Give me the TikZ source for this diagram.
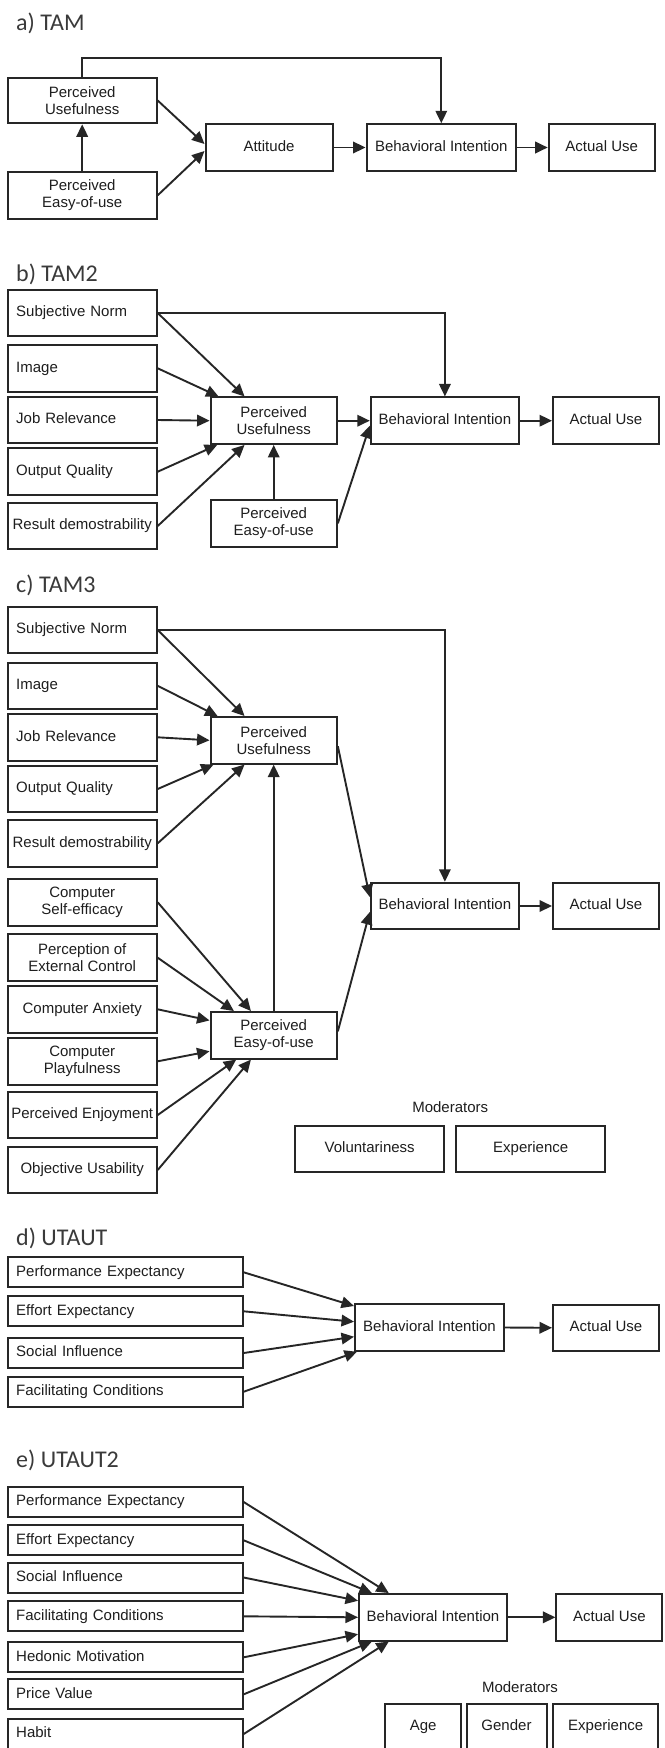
\documentclass[tikz,border=0pt]{standalone}
\usepackage{fontspec}
\setmainfont{Liberation Sans}
\newfontfamily\titlefont{Carlito}
\usetikzlibrary{arrows.meta,calc}
\definecolor{lc}{HTML}{262626}
\definecolor{tc}{HTML}{1E1E1E}
\definecolor{ttc}{HTML}{3A3A3A}
\begin{document}
\begin{tikzpicture}[x=1pt,y=-1pt,
  mybox/.style={draw=lc, line width=2pt, inner sep=0pt, align=center, text=tc,
    font=\fontsize{15}{17}\selectfont, minimum height=46.5pt},
  sl/.style={text height=10.8pt, text depth=3.2pt},
  sbox/.style={mybox, minimum width=149pt},
  lbox/.style={sbox, sl, text width=132pt, align=left},
  wbox/.style={mybox, sl, minimum width=235pt, minimum height=30pt, text width=218pt, align=left},
  myarr/.style={draw=lc, line width=1.9pt, -{Triangle[length=12.5pt,width=11.5pt]}},
  ttl/.style={anchor=base west, inner sep=0pt, text=ttc, font=\titlefont\fontsize{24}{28}\selectfont},
  modl/.style={inner sep=0pt, text=tc, font=\fontsize{15}{17}\selectfont}
]
\useasboundingbox (0,0) rectangle (664,1748);
\clip (0,0) rectangle (664,1748);
\fill[white] (0,0) rectangle (664,1748);

% ---------------- a) TAM ----------------
\node[ttl] (ta) at (16,30.5) {a) TAM};
\node[sbox, minimum height=45.6pt] (a_pu) at (82.2,100.5) {Perceived\\Usefulness};
\node[sbox] (a_peou) at (82.2,195.3) {Perceived\\Easy-of-use};
\node[mybox, sl, minimum width=127pt] (a_att) at (269,147.5) {Attitude};
\node[mybox, sl, minimum width=149.5pt] (a_bi) at (441.3,147.5) {Behavioral Intention};
\node[mybox, sl, minimum width=106pt] (a_au) at (601.7,147.5) {Actual Use};
\coordinate (a_top) at (82.2,58.3);
\draw[myarr] (a_pu.north) -- (a_top) -| (a_bi.north);
\draw[myarr] (a_pu.east) -- ($(a_att.west)+(0,-3.5)$);
\draw[myarr] (a_peou.east) -- ($(a_att.west)+(0,3.5)$);
\draw[myarr] (a_peou.north) -- (a_pu.south);
\draw[myarr] (a_att.east) -- (a_bi.west);
\draw[myarr] (a_bi.east) -- (a_au.west);

% ---------------- b) TAM2 ----------------
\node[ttl] (tb) at (16,281.7) {b) TAM2};
\node[lbox] (b_sn) at (82.2,313) {Subjective Norm};
\node[lbox] (b_img) at (82.2,368.3) {Image};
\node[lbox] (b_jr) at (82.2,420) {Job Relevance};
\node[lbox] (b_oq) at (82.2,471.7) {Output Quality};
\node[sbox, sl] (b_rd) at (82.2,526) {Result demostrability};
\node[mybox, minimum width=126.3pt] (b_pu) at (273.7,420.7) {Perceived\\Usefulness};
\node[mybox, minimum width=126.3pt] (b_peou) at (273.7,523.3) {Perceived\\Easy-of-use};
\node[mybox, sl, minimum width=148.2pt] (b_bi) at (444.9,420.7) {Behavioral Intention};
\node[mybox, sl, minimum width=106pt] (b_au) at (606,420.7) {Actual Use};
\draw[myarr] (b_sn.east) -| (b_bi.north);
\draw[myarr] (b_sn.east) -- ($(b_pu.north west)+(35,0)$);
\draw[myarr] (b_img.east) -- ($(b_pu.north west)+(9,0)$);
\draw[myarr] (b_jr.east) -- (b_pu.west);
\draw[myarr] (b_oq.east) -- ($(b_pu.south west)+(7.6,0)$);
\draw[myarr] (b_rd.east) -- ($(b_pu.south west)+(35,0)$);
\draw[myarr] (b_peou.north) -- (b_pu.south);
\draw[myarr] (b_pu.east) -- (b_bi.west);
\draw[myarr] (b_peou.east) -- ($(b_bi.west)+(0,5)$);
\draw[myarr] (b_bi.east) -- (b_au.west);

% ---------------- c) TAM3 ----------------
\node[ttl] (tc3) at (16,592) {c) TAM3};
\node[lbox] (c_sn) at (82.2,630) {Subjective Norm};
\node[lbox] (c_img) at (82.2,685.8) {Image};
\node[lbox] (c_jr) at (82.2,737.3) {Job Relevance};
\node[lbox] (c_oq) at (82.2,789) {Output Quality};
\node[sbox, sl] (c_rd) at (82.2,843.3) {Result demostrability};
\node[sbox] (c_cse) at (82.2,902.3) {Computer\\Self-efficacy};
\node[sbox] (c_pec) at (82.2,957.7) {Perception of\\External Control};
\node[sbox, sl] (c_ca) at (82.2,1009.3) {Computer Anxiety};
\node[sbox] (c_cp) at (82.2,1061.3) {Computer\\Playfulness};
\node[sbox, sl] (c_pe) at (82.2,1115) {Perceived Enjoyment};
\node[sbox, sl] (c_ou) at (82.2,1170) {Objective Usability};
\node[mybox, minimum width=126.3pt] (c_pu) at (273.7,740.3) {Perceived\\Usefulness};
\node[mybox, minimum width=126.3pt] (c_peou) at (273.7,1035.3) {Perceived\\Easy-of-use};
\node[mybox, sl, minimum width=148.2pt] (c_bi) at (444.9,906) {Behavioral Intention};
\node[mybox, sl, minimum width=106pt] (c_au) at (606,906) {Actual Use};
\node[modl] (c_mod) at (450.2,1107) {Moderators};
\node[mybox, sl, minimum width=148.7pt] (c_vol) at (369.7,1149) {Voluntariness};
\node[mybox, sl, minimum width=148.7pt] (c_exp) at (530.7,1149) {Experience};
\draw[myarr] (c_sn.east) -| (c_bi.north);
\draw[myarr] (c_sn.east) -- ($(c_pu.north west)+(35,0)$);
\draw[myarr] (c_img.east) -- ($(c_pu.north west)+(8,0)$);
\draw[myarr] (c_jr.east) -- (c_pu.west);
\draw[myarr] (c_oq.east) -- ($(c_pu.south west)+(4,0)$);
\draw[myarr] (c_rd.east) -- ($(c_pu.south west)+(35,0)$);
\draw[myarr] (c_peou.north) -- (c_pu.south);
\draw[myarr] ($(c_pu.east)+(0,6)$) -- ($(c_bi.west)+(0,-9)$);
\draw[myarr] ($(c_peou.east)+(0,-4)$) -- ($(c_bi.west)+(0,6)$);
\draw[myarr] (c_bi.east) -- (c_au.west);
\draw[myarr] (c_cse.east) -- ($(c_peou.north west)+(41.4,0)$);
\draw[myarr] (c_pec.east) -- ($(c_peou.north west)+(24.4,0)$);
\draw[myarr] (c_ca.east) -- ($(c_peou.north west)+(0,9.4)$);
\draw[myarr] (c_cp.east) -- ($(c_peou.south west)+(0,-8.3)$);
\draw[myarr] (c_pe.east) -- ($(c_peou.south west)+(26.7,0)$);
\draw[myarr] (c_ou.east) -- ($(c_peou.south west)+(41.4,0)$);

% ---------------- d) UTAUT ----------------
\node[ttl] (td) at (16,1245) {d) UTAUT};
\node[wbox] (d_pe) at (125.2,1272.3) {Performance Expectancy};
\node[wbox] (d_ee) at (125.2,1311.3) {Effort Expectancy};
\node[wbox] (d_si) at (125.2,1353) {Social Influence};
\node[wbox] (d_fc) at (125.2,1391.7) {Facilitating Conditions};
\node[mybox, sl, minimum width=149pt] (d_bi) at (429.5,1327.5) {Behavioral Intention};
\node[mybox, sl, minimum width=106pt] (d_au) at (606,1327.8) {Actual Use};
\draw[myarr] (d_pe.east) -- ($(d_bi.west)+(0,-21.5)$);
\draw[myarr] (d_ee.east) -- ($(d_bi.west)+(0,-5.8)$);
\draw[myarr] (d_si.east) -- ($(d_bi.west)+(0,9.2)$);
\draw[myarr] (d_fc.east) -- ($(d_bi.south west)+(3,0)$);
\draw[myarr] (d_bi.east) -- (d_au.west);

% ---------------- e) UTAUT2 ----------------
\node[ttl] (te) at (16,1467.3) {e) UTAUT2};
\node[wbox] (e_pe) at (125.2,1502) {Performance Expectancy};
\node[wbox] (e_ee) at (125.2,1540.3) {Effort Expectancy};
\node[wbox] (e_si) at (125.2,1577.5) {Social Influence};
\node[wbox] (e_fc) at (125.2,1616.3) {Facilitating Conditions};
\node[wbox] (e_hm) at (125.2,1657.3) {Hedonic Motivation};
\node[wbox] (e_pv) at (125.2,1694.3) {Price Value};
\node[wbox, minimum height=31pt] (e_hab) at (125.2,1734) {Habit};
\node[mybox, sl, minimum width=148pt] (e_bi) at (433,1617.3) {Behavioral Intention};
\node[mybox, sl, minimum width=106pt] (e_au) at (609.4,1617.3) {Actual Use};
\node[modl] (e_mod) at (520,1687.2) {Moderators};
\node[mybox, sl, minimum width=75.5pt, minimum height=46pt] (e_age) at (423.2,1727) {Age};
\node[mybox, sl, minimum width=80pt, minimum height=46pt] (e_gen) at (506.5,1727) {Gender};
\node[mybox, sl, minimum width=105.5pt, minimum height=46pt] (e_exp) at (605.7,1727) {Experience};
\draw[myarr] (e_pe.east) -- ($(e_bi.north west)+(30.8,0)$);
\draw[myarr] (e_ee.east) -- ($(e_bi.north west)+(13.9,0)$);
\draw[myarr] (e_si.east) -- ($(e_bi.north west)+(0,7.7)$);
\draw[myarr] (e_fc.east) -- (e_bi.west);
\draw[myarr] (e_hm.east) -- ($(e_bi.south west)+(0,-7.4)$);
\draw[myarr] (e_pv.east) -- ($(e_bi.south west)+(13.9,0)$);
\draw[myarr] (e_hab.east) -- ($(e_bi.south west)+(30.8,0)$);
\draw[myarr] (e_bi.east) -- (e_au.west);
\end{tikzpicture}
\end{document}
